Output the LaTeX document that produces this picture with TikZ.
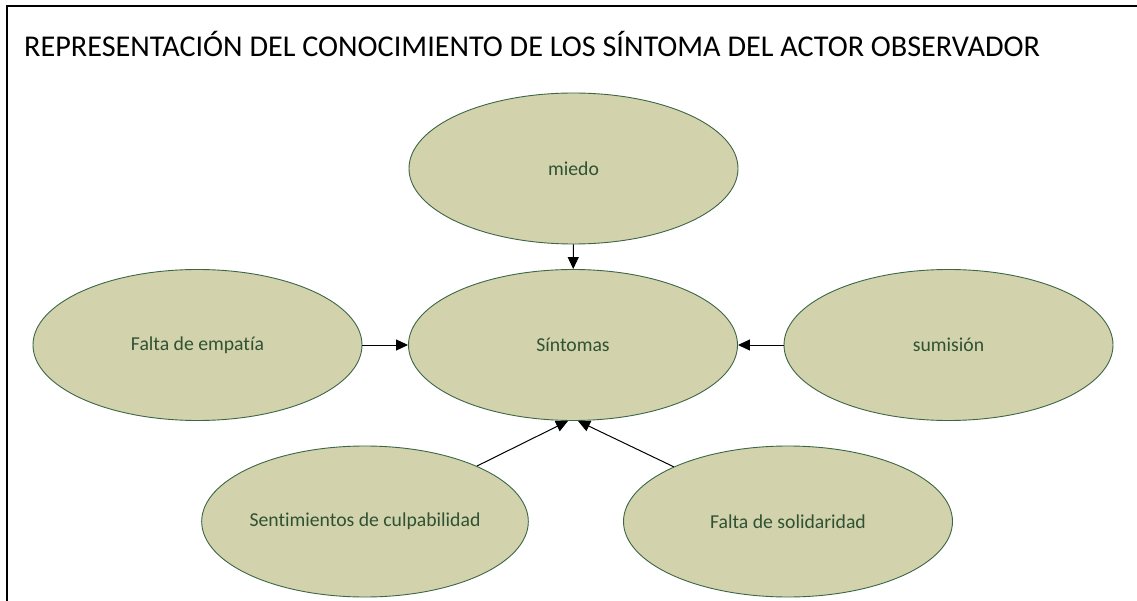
\documentclass[tikz,border=0pt]{standalone}
\usepackage{fontspec}
\setmainfont{Carlito}[Ligatures=NoCommon]
\usetikzlibrary{shapes.geometric,arrows.meta}
\definecolor{ellfill}{HTML}{D2D2AC}
\definecolor{elldraw}{HTML}{3C6646}
\definecolor{elltext}{HTML}{2F5233}
\tikzset{
  bubble/.style={ellipse, fill=ellfill, draw=elldraw, line width=0.9pt,
    minimum width=329pt, minimum height=151pt, inner sep=0pt,
    text=elltext, font=\fontsize{19.7}{22}\selectfont},
  conn/.style={line width=1pt, -{Triangle[length=12pt,width=11pt]}},
  frameline/.style={line width=2.3pt}
}
\begin{document}
\begin{tikzpicture}[x=1pt,y=-1pt]
\useasboundingbox (0,0) rectangle (1137,601);
\coordinate (fbl) at (7,601);
\coordinate (ftl) at (7,6);
\coordinate (ftr) at (1137,6);
\draw[frameline] (fbl) -- (ftl) -- (ftr);
\node[anchor=base west, font=\fontsize{30.2}{34}\selectfont, inner sep=0pt] (title) at (24,57) {REPRESENTACIÓN DEL CONOCIMIENTO DE LOS SÍNTOMA DEL ACTOR OBSERVADOR};
\node[bubble] (miedo) at (573.5,168.5) {miedo};
\node[bubble] (sint) at (573,345) {Síntomas};
\node[bubble] (emp) at (197.5,345) {Falta de empatía};
\node[bubble] (sum) at (948.5,345) {sumisión};
\node[bubble, minimum width=321pt] (sent) at (365,521.5) {Sentimientos de culpabilidad};
\node[bubble] (sol) at (788,521.5) {Falta de solidaridad};
\coordinate (t1) at ([xshift=-5pt]sint.south);
\coordinate (t2) at ([xshift=5pt]sint.south);
\draw[conn] (miedo) -- (sint);
\draw[conn] (emp) -- (sint);
\draw[conn] (sum) -- (sint);
\draw[conn] (sent) -- (t1);
\draw[conn] (sol) -- (t2);
\end{tikzpicture}
\end{document}
